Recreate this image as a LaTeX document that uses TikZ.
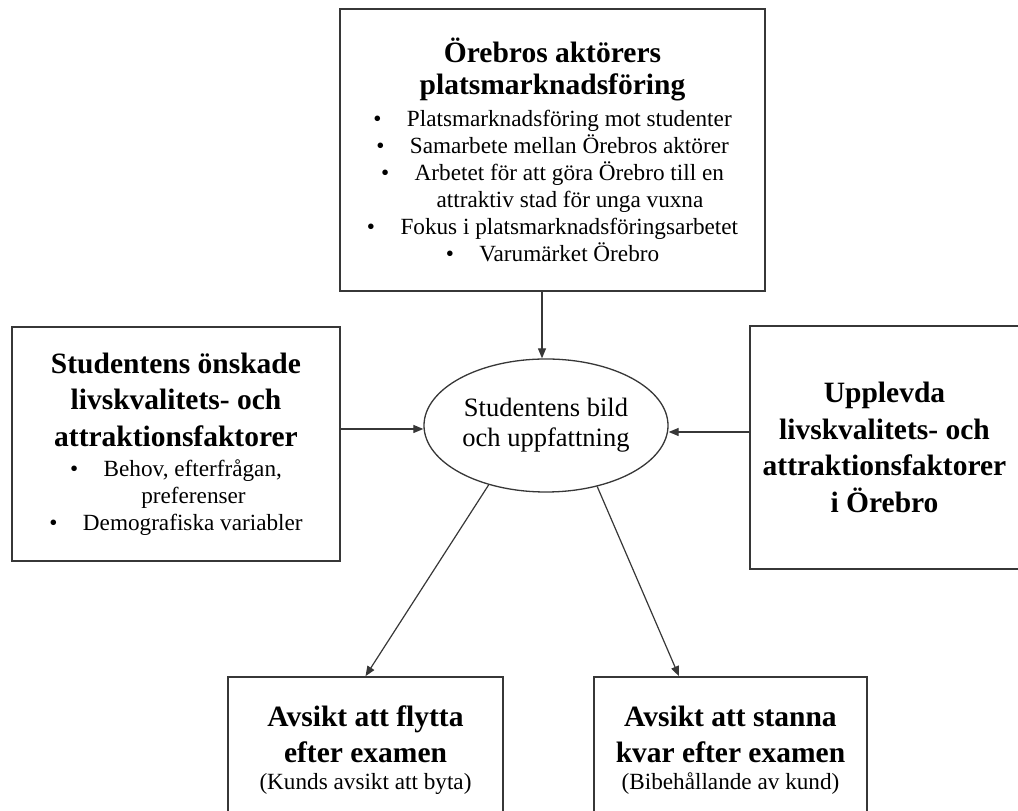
\documentclass[tikz,border=0pt]{standalone}
\usepackage{fontspec}
\setmainfont{Liberation Serif}
\usetikzlibrary{shapes.geometric,arrows.meta}
\definecolor{mygray}{RGB}{55,55,55}
\newcommand{\headfont}[1][36.5pt]{\fontsize{29.5pt}{#1}\selectfont\bfseries\centering\spaceskip=0pt\xspaceskip=0pt}
\newcommand{\bodyfont}{\fontsize{23.2pt}{27pt}\selectfont\centering\spaceskip=0pt\xspaceskip=0pt}
\newcommand{\bul}{\textbullet\hspace{1.1em}}
\newcommand{\contd}{\hspace*{35pt}}
\tikzset{
    common/.style={draw=mygray, inner sep=0pt, align=center, execute at begin node={\setlength{\parindent}{0pt}}},
    topicbox/.style={common, rectangle, line width=1.6pt},
    opinion/.style={common, ellipse, line width=1.3pt, font=\fontsize{26.5pt}{30pt}\selectfont},
    link/.style={draw=mygray, line width=1.2pt, -{Triangle[length=10pt,width=8pt]}}
}
\begin{document}
\begin{tikzpicture}[x=1pt,y=1pt]
    \useasboundingbox (0,0) rectangle (1018,811);

    \node[topicbox, minimum width=425pt, minimum height=282pt, text width=415pt] (actors) at (552.5,661) {%
        {\headfont[32pt] Örebros aktörers\\ platsmarknadsföring\par}\vspace{5pt}%
        {\bodyfont \bul Platsmarknadsföring mot studenter\\
        \bul Samarbete mellan Örebros aktörer\\
        \bul Arbetet för att göra Örebro till en\\
        \contd attraktiv stad för unga vuxna\\
        \bul Fokus i platsmarknadsföringsarbetet\\
        \bul Varumärket Örebro\par}};
    \node[topicbox, minimum width=328pt, minimum height=234pt, text width=318pt] (wishes) at (176,367) {%
        {\headfont Studentens önskade\\ livskvalitets- och\\ attraktionsfaktorer\par}\vspace{3pt}%
        {\bodyfont \bul Behov, efterfrågan,\\
        \contd preferenser\\
        \bul Demografiska variabler\par}};
    \node[topicbox, minimum width=269pt, minimum height=243pt, text width=259pt] (perceived) at (884.5,363.5) {%
        {\headfont Upplevda\\ livskvalitets- och\\ attraktionsfaktorer\\ i Örebro\par}};
    \node[opinion, minimum width=244pt, minimum height=133pt] (ell) at (546,385.5) {Studentens bild\\ och uppfattning};
    \node[topicbox, minimum width=275pt, minimum height=146pt, text width=265pt] (move) at (365.5,61) {%
        {\headfont Avsikt att flytta\\ efter examen\par}%
        {\bodyfont (Kunds avsikt att byta)\par}};
    \node[topicbox, minimum width=273pt, minimum height=146pt, text width=263pt] (stay) at (730.5,61) {%
        {\headfont Avsikt att stanna\\ kvar efter examen\par}%
        {\bodyfont (Bibehållande av kund)\par}};

    % influences on the picture
    \draw[link] ([xshift=-10.5pt]actors.south) -- ([xshift=-4pt]ell.north);
    \draw[link] ([yshift=15pt]wishes.east) -- ([yshift=-3.5pt]ell.west);
    \draw[link] ([yshift=15.5pt]perceived.west) -- ([yshift=-6.5pt]ell.east);
    % outcomes
    \draw[link] (ell.226) -- (move.north);
    \draw[link] (ell.310) -- ([xshift=-51.5pt]stay.north);
\end{tikzpicture}
\end{document}
